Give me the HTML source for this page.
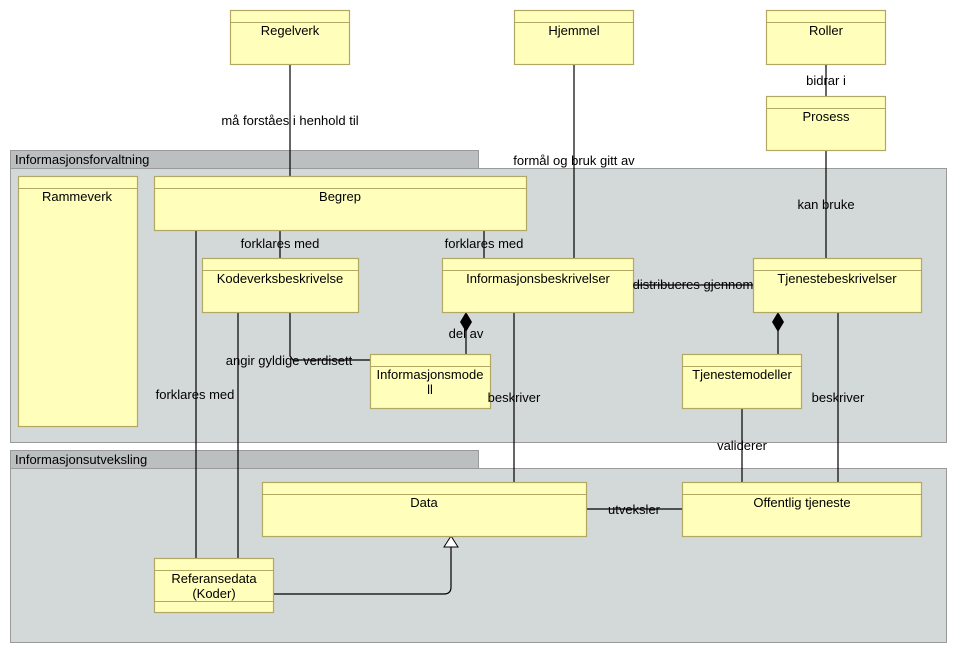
<!DOCTYPE html>
<html><head><meta charset="utf-8"><style>
html,body{margin:0;padding:0;background:#fff;}
svg{display:block;}
text{font-family:"Liberation Sans","DejaVu Sans",sans-serif;font-size:13px;fill:#000;}
.b{fill:#ffffbb;stroke:#b2a866;stroke-width:1.2;}
.h{stroke:#b2a866;stroke-width:1;}
.l{stroke:#000;stroke-width:1.2;fill:none;}
.pk{fill:#d3d8d8;stroke:#9a9a9a;stroke-width:1;}
.tab{fill:#bcbfc0;stroke:#9a9a9a;stroke-width:1;}
</style></head><body>
<svg width="957" height="653" viewBox="0 0 957 653" xmlns="http://www.w3.org/2000/svg">
<rect class="tab" x="10.5" y="150.5" width="468" height="18"/>
<rect class="pk" x="10.5" y="168.5" width="936" height="274"/>
<text x="15" y="164">Informasjonsforvaltning</text>
<rect class="tab" x="10.5" y="450.5" width="468" height="18"/>
<rect class="pk" x="10.5" y="468.5" width="936" height="174"/>
<text x="15" y="464">Informasjonsutveksling</text>

<line class="l" x1="290" y1="64" x2="290" y2="176"/>
<line class="l" x1="574" y1="64" x2="574" y2="258"/>
<line class="l" x1="826" y1="64" x2="826" y2="96"/>
<line class="l" x1="826" y1="150" x2="826" y2="258"/>
<line class="l" x1="280" y1="230" x2="280" y2="258"/>
<line class="l" x1="484" y1="230" x2="484" y2="258"/>
<line class="l" x1="196" y1="230" x2="196" y2="558"/>
<line class="l" x1="238" y1="312" x2="238" y2="558"/>
<path class="l" d="M290 312 V356 L293 360 H370"/>
<line class="l" x1="466" y1="312" x2="466" y2="354"/>
<path d="M466 312 L472 322 L466 332 L460 322 Z" fill="#000"/>
<line class="l" x1="514" y1="312" x2="514" y2="482"/>
<line class="l" x1="633" y1="285" x2="753" y2="285"/>
<line class="l" x1="778" y1="312" x2="778" y2="354"/>
<path d="M778 312 L784 322 L778 332 L772 322 Z" fill="#000"/>
<line class="l" x1="838" y1="312" x2="838" y2="482"/>
<line class="l" x1="742" y1="408" x2="742" y2="482"/>
<line class="l" x1="586" y1="509" x2="682" y2="509"/>
<path class="l" d="M273 594 H444 Q451 594 451 587 V547"/>
<path d="M451 536 L458 547 L444 547 Z" fill="#fff" stroke="#000" stroke-width="1"/>

<g>
<rect class="b" x="230.5" y="10.5" width="119" height="54"/><line class="h" x1="230" y1="22.5" x2="350" y2="22.5"/><text x="290" y="35" text-anchor="middle">Regelverk</text>
<rect class="b" x="514.5" y="10.5" width="119" height="54"/><line class="h" x1="514" y1="22.5" x2="634" y2="22.5"/><text x="574" y="35" text-anchor="middle">Hjemmel</text>
<rect class="b" x="766.5" y="10.5" width="119" height="54"/><line class="h" x1="766" y1="22.5" x2="886" y2="22.5"/><text x="826" y="35" text-anchor="middle">Roller</text>
<rect class="b" x="766.5" y="96.5" width="119" height="54"/><line class="h" x1="766" y1="108.5" x2="886" y2="108.5"/><text x="826" y="121" text-anchor="middle">Prosess</text>
<rect class="b" x="18.5" y="176.5" width="119" height="250"/><line class="h" x1="18" y1="188.5" x2="138" y2="188.5"/><text x="77" y="201" text-anchor="middle">Rammeverk</text>
<rect class="b" x="154.5" y="176.5" width="372" height="54"/><line class="h" x1="154" y1="188.5" x2="527" y2="188.5"/><text x="340" y="201" text-anchor="middle">Begrep</text>
<rect class="b" x="202.5" y="258.5" width="156" height="54"/><line class="h" x1="202" y1="270.5" x2="359" y2="270.5"/><text x="280" y="283" text-anchor="middle">Kodeverksbeskrivelse</text>
<rect class="b" x="442.5" y="258.5" width="191" height="54"/><line class="h" x1="442" y1="270.5" x2="634" y2="270.5"/><text x="538" y="283" text-anchor="middle">Informasjonsbeskrivelser</text>
<rect class="b" x="753.5" y="258.5" width="168" height="54"/><line class="h" x1="753" y1="270.5" x2="922" y2="270.5"/><text x="837" y="283" text-anchor="middle">Tjenestebeskrivelser</text>
<rect class="b" x="370.5" y="354.5" width="120" height="54"/><line class="h" x1="370" y1="366.5" x2="491" y2="366.5"/><text x="430" y="379" text-anchor="middle">Informasjonsmode</text><text x="430" y="394" text-anchor="middle">ll</text>
<rect class="b" x="682.5" y="354.5" width="119" height="54"/><line class="h" x1="682" y1="366.5" x2="802" y2="366.5"/><text x="742" y="379" text-anchor="middle">Tjenestemodeller</text>
<rect class="b" x="262.5" y="482.5" width="324" height="54"/><line class="h" x1="262" y1="494.5" x2="587" y2="494.5"/><text x="424" y="507" text-anchor="middle">Data</text>
<rect class="b" x="682.5" y="482.5" width="239" height="54"/><line class="h" x1="682" y1="494.5" x2="922" y2="494.5"/><text x="802" y="507" text-anchor="middle">Offentlig tjeneste</text>
<rect class="b" x="154.5" y="558.5" width="119" height="54"/><line class="h" x1="154" y1="570.5" x2="274" y2="570.5"/><line class="h" x1="154" y1="601.5" x2="274" y2="601.5"/><text x="214" y="583" text-anchor="middle">Referansedata</text><text x="214" y="598" text-anchor="middle">(Koder)</text>
</g>

<text x="290" y="125" text-anchor="middle">må forståes i henhold til</text>
<text x="574" y="165" text-anchor="middle">formål og bruk gitt av</text>
<text x="826" y="85" text-anchor="middle">bidrar i</text>
<text x="826" y="209" text-anchor="middle">kan bruke</text>
<text x="280" y="248" text-anchor="middle">forklares med</text>
<text x="484" y="248" text-anchor="middle">forklares med</text>
<text x="195" y="399" text-anchor="middle">forklares med</text>
<text x="289" y="365" text-anchor="middle">angir gyldige verdisett</text>
<text x="466" y="338" text-anchor="middle">del av</text>
<text x="514" y="402" text-anchor="middle">beskriver</text>
<text x="693" y="289" text-anchor="middle">distribueres gjennom</text>
<text x="838" y="402" text-anchor="middle">beskriver</text>
<text x="742" y="450" text-anchor="middle">validerer</text>
<text x="634" y="514" text-anchor="middle">utveksler</text>
</svg>
</body></html>
